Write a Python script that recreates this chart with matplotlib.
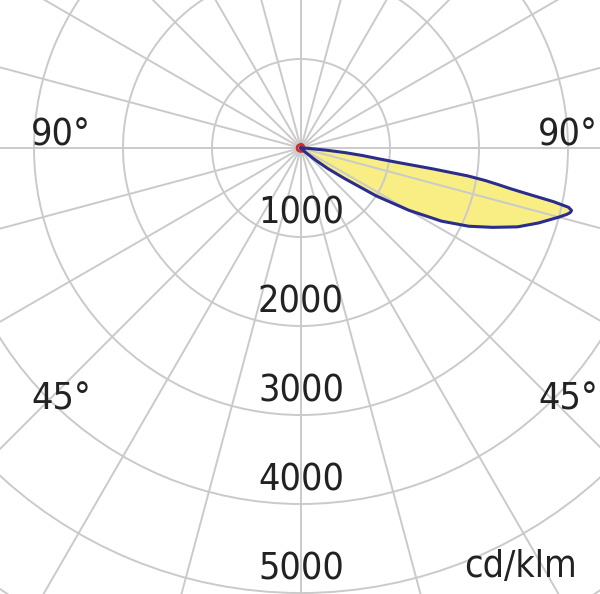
import numpy as np
import matplotlib
matplotlib.use("Agg")
import matplotlib.pyplot as plt
from matplotlib import font_manager

# luminous intensity distribution, gamma measured from nadir (deg), cd/klm
gamma_main = [0, 20, 40, 45, 50, 52.5, 55, 57.5, 60, 62.5, 65, 67.5, 70, 72.5,
              75, 76, 76.5, 77, 77.5, 78, 78.5, 79, 79.5, 80, 80.5, 81, 81.5,
              82, 83, 84, 85, 86, 88, 90]
intensity_main = [0, 0, 10, 60, 200, 380, 600, 1000, 1400, 1780, 2080, 2330,
                  2590, 2800, 3000, 3080, 3110, 3120, 3080, 2900, 2620, 2400,
                  2250, 2100, 1900, 1500, 1100, 900, 700, 500, 300, 150, 50, 0]

# second plane, barely visible around the origin
gamma_side = [-180, -150, -120, -90, -60, -30, 0, 30, 60, 90, 120, 150, 180]
intensity_side = [40, 40, 45, 45, 45, 40, 40, 40, 40, 35, 35, 40, 40]

ring_values = [1000, 2000, 3000, 4000, 5000]
ring_labels = ["1000", "2000", "3000", "4000", "5000"]
unit_label = "cd/klm"

# pick a narrow face if one is around
entries = font_manager.fontManager.ttflist
names = {f.name for f in entries}
stretch = 'normal'
if 'Liberation Sans Narrow' in names:
    family = 'Liberation Sans Narrow'
elif any(f.name == 'DejaVu Sans' and f.stretch in ('condensed', 'semi-condensed')
         for f in entries):
    family, stretch = 'DejaVu Sans', 'condensed'
elif 'Roboto Condensed' in names:
    family = 'Roboto Condensed'
else:
    family = 'Roboto'
plt.rcParams['font.family'] = [family, 'DejaVu Sans']
plt.rcParams['font.stretch'] = stretch
txt_color = '#222222'
grid_color = '#cacaca'
fsize = 27

fig = plt.figure(figsize=(6.0, 5.94), dpi=100)
fig.patch.set_facecolor('white')
# centre of the diagram sits at (301, 148) px, 89 px per 1000 cd/klm
rmax = 7000
R = rmax * 0.089
cx, cy = 301, 594 - 148
ax = fig.add_axes([(cx - R) / 600, (cy - R) / 594, 2 * R / 600, 2 * R / 594],
                  projection='polar')
ax.set_theta_zero_location('S')
ax.set_theta_direction(1)
ax.set_rlim(0, rmax)
ax.set_thetagrids(np.arange(0, 360, 15), labels=[])
ax.set_rgrids(np.arange(1000, rmax + 1, 1000), labels=[])
ax.grid(True, color=grid_color, linewidth=1.4)
ax.set_axisbelow(False)
ax.spines['polar'].set_visible(False)
ax.tick_params(length=0)

g = np.radians(gamma_main)
ax.fill(g, intensity_main, color='#f8ee84', zorder=1, lw=0)
ax.plot(g, intensity_main, color='#2b2d8c', lw=2.2, zorder=4,
        solid_joinstyle='round')

gs = np.radians(gamma_side)
ax.plot(gs, intensity_side, color='#d62a2a', lw=2.0, zorder=3)

for v, lab in zip(ring_values, ring_labels):
    ax.text(0, v - 265, lab, ha='center', va='center', fontsize=fsize,
            color=txt_color, zorder=5)

for x, y, lab in [(61, 135, "90°"), (568, 135, "90°"),
                  (61, 400, "45°"), (568, 400, "45°")]:
    fig.text(x / 600, 1 - y / 594, lab, ha='center', va='center',
             fontsize=fsize, color=txt_color)
fig.text(520 / 600, 1 - 567 / 594, unit_label, ha='center', va='center',
         fontsize=fsize, color=txt_color)

fig.savefig('out.png', dpi=100, facecolor='white')
